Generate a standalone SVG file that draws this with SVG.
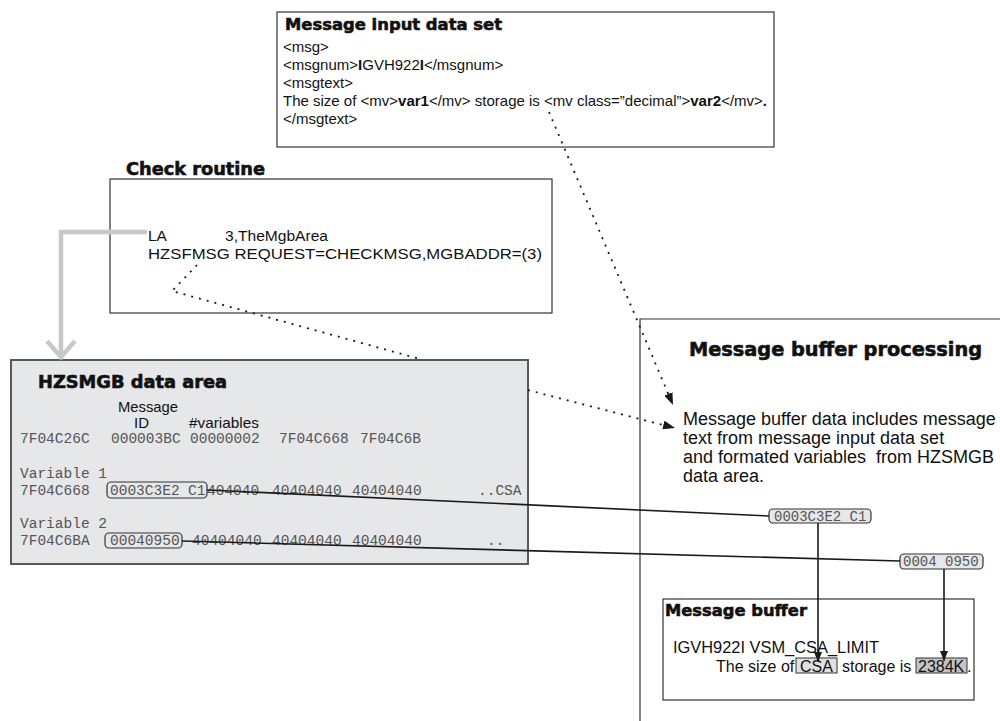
<svg xmlns="http://www.w3.org/2000/svg" width="1000" height="721" viewBox="0 0 1000 721">
<defs>
<style>
.title{font-family:"DejaVu Sans","Liberation Sans",sans-serif;font-weight:bold;fill:#111;stroke:#111;stroke-width:0.6}
.body{font-family:"Liberation Sans",Arial,sans-serif;fill:#111}
.mono{font-family:"Liberation Mono","Courier New",monospace;font-size:14.5px;fill:#555}
.box{fill:#fff;stroke:#333;stroke-width:1.2}
.gbox{fill:#e6e7e8;stroke:#58595b;stroke-width:2}
.pill{fill:#e6e7e8;stroke:#333;stroke-width:1.2}
.solid{fill:none;stroke:#1a1a1a;stroke-width:1.6}
.dotted{fill:none;stroke:#1a1a1a;stroke-width:1.8;stroke-dasharray:2 6}
.grey{fill:none;stroke:#c8c8c8;stroke-width:4.5}
</style>
<marker id="ah" viewBox="0 0 10 8" refX="10" refY="4" markerWidth="10" markerHeight="8" markerUnits="userSpaceOnUse" orient="auto">
<path d="M0,0 L10,4 L0,8 z" fill="#1a1a1a"/>
</marker>
<marker id="ahd" viewBox="0 0 12 9" refX="12" refY="4.5" markerWidth="12" markerHeight="9" markerUnits="userSpaceOnUse" orient="auto">
<path d="M0,0 L12,4.5 L0,9 z" fill="#1a1a1a"/>
</marker>
</defs>
<rect width="1000" height="721" fill="#fff"/>

<g id="message-input-data-set">
<rect class="box" x="277" y="12" width="497" height="135"/>
<text class="title" x="285" y="30" font-size="16.5" textLength="217" lengthAdjust="spacingAndGlyphs">Message input data set</text>
<text class="body" font-size="15">
<tspan x="283" y="52">&lt;msg&gt;</tspan>
<tspan x="283" y="70">&lt;msgnum&gt;<tspan font-weight="bold">I</tspan>GVH922<tspan font-weight="bold">I</tspan>&lt;/msgnum&gt;</tspan>
<tspan x="283" y="88">&lt;msgtext&gt;</tspan>
<tspan x="283" y="106">The size of &lt;mv&gt;<tspan font-weight="bold">var1</tspan>&lt;/mv&gt; storage is &lt;mv class=”decimal”&gt;<tspan font-weight="bold">var2</tspan>&lt;/mv&gt;<tspan font-weight="bold">.</tspan></tspan>
<tspan x="283" y="124">&lt;/msgtext&gt;</tspan>
</text>
</g>

<g id="check-routine">
<text class="title" x="126" y="175" font-size="17" textLength="139" lengthAdjust="spacingAndGlyphs">Check routine</text>
<rect class="box" x="110" y="179" width="442" height="134"/>
<text class="body" font-size="15.5" x="148" y="241">LA</text>
<text class="body" font-size="15.5" x="225" y="241" textLength="103" lengthAdjust="spacingAndGlyphs">3,TheMgbArea</text>
<text class="body" font-size="15.5" x="148" y="259" textLength="394" lengthAdjust="spacingAndGlyphs">HZSFMSG REQUEST=CHECKMSG,MGBADDR=(3)</text>
</g>

<g id="hzsmgb-data-area">
<rect class="gbox" x="11" y="360" width="517" height="204"/>
<text class="title" x="38" y="388" font-size="17.5" textLength="189" lengthAdjust="spacingAndGlyphs">HZSMGB data area</text>
<text class="body" font-size="15" fill="#333" x="118" y="412" textLength="60" lengthAdjust="spacingAndGlyphs">Message</text>
<text class="body" font-size="15" fill="#333" x="134" y="428">ID</text>
<text class="body" font-size="15" fill="#333" x="189" y="428" textLength="70" lengthAdjust="spacingAndGlyphs">#variables</text>
<text class="mono" y="443"><tspan x="20">7F04C26C</tspan><tspan x="111">000003BC</tspan><tspan x="190">00000002</tspan><tspan x="279">7F04C668</tspan><tspan x="360">7F04C6B</tspan></text>
<text class="mono" x="20" y="478">Variable 1</text>
<text class="mono" y="495"><tspan x="20">7F04C668</tspan><tspan x="110">0003C3E2</tspan><tspan x="188">C1</tspan><tspan x="207">404040</tspan><tspan x="272">40404040</tspan><tspan x="352">40404040</tspan><tspan x="478">..CSA</tspan></text>
<rect x="107" y="482" width="100" height="16" rx="4" fill="none" stroke="#333" stroke-width="1.2"/>
<text class="mono" x="20" y="528">Variable 2</text>
<text class="mono" y="545"><tspan x="20">7F04C6BA</tspan><tspan x="110">00040950</tspan><tspan x="192">40404040</tspan><tspan x="272">40404040</tspan><tspan x="352">40404040</tspan><tspan x="487">..</tspan></text>
<rect x="105" y="533" width="77" height="15" rx="4" fill="none" stroke="#333" stroke-width="1.2"/>
</g>

<g id="message-buffer-processing">
<path d="M640,721 V319 H1000" fill="none" stroke="#333" stroke-width="1.2"/>
<text class="title" x="689" y="356" font-size="19" textLength="293" lengthAdjust="spacingAndGlyphs">Message buffer processing</text>
<text class="body" font-size="18">
<tspan x="683" y="425">Message buffer data includes message</tspan>
<tspan x="683" y="444">text from message input data set</tspan>
<tspan x="683" y="463" xml:space="preserve">and formated variables  from HZSMGB</tspan>
<tspan x="683" y="482">data area.</tspan>
</text>
</g>

<g id="var1-value">
<rect class="pill" x="769" y="509" width="102" height="14" rx="4"/>
<text class="mono" x="774" y="521" style="font-size:14px">0003C3E2 C1</text>
</g>

<g id="var2-value">
<rect class="pill" x="900" y="554" width="83" height="15" rx="4"/>
<text class="mono" x="903" y="566" style="font-size:14px">0004 0950</text>
</g>

<g id="message-buffer">
<rect class="box" x="663" y="599" width="311" height="101"/>
<text class="title" x="665" y="616" font-size="16.5" textLength="142" lengthAdjust="spacingAndGlyphs">Message buffer</text>
<text class="body" font-size="16" x="673" y="653" textLength="206" lengthAdjust="spacingAndGlyphs">IGVH922I VSM_CSA_LIMIT</text>
<rect x="796" y="658" width="41" height="15" fill="#e0e0e0" stroke="#333" stroke-width="1"/>
<rect x="916" y="658" width="51" height="15" fill="#c4c4c4" stroke="#333" stroke-width="1"/>
<text class="body" font-size="16" y="672"><tspan x="716">The size of</tspan><tspan x="800">CSA</tspan><tspan x="842">storage is</tspan><tspan x="918">2384K</tspan><tspan x="967">.</tspan></text>
</g>

<g id="connectors">
<path class="grey" d="M147,232 H61 V357"/>
<path class="grey" d="M47,341 L61,357 L75,341"/>
<path class="dotted" d="M549,112 L673,405" marker-end="url(#ahd)"/>
<path class="dotted" d="M197,265 L172,291 L420,359"/>
<path class="dotted" d="M528,390 L675,428" marker-end="url(#ahd)"/>
<path class="solid" d="M207,490 L769,516"/>
<path class="solid" d="M182,541 L900,561"/>
<path class="solid" d="M818,523 V662" marker-end="url(#ah)"/>
<path class="solid" d="M944,569 V661" marker-end="url(#ah)"/>
</g>
</svg>
